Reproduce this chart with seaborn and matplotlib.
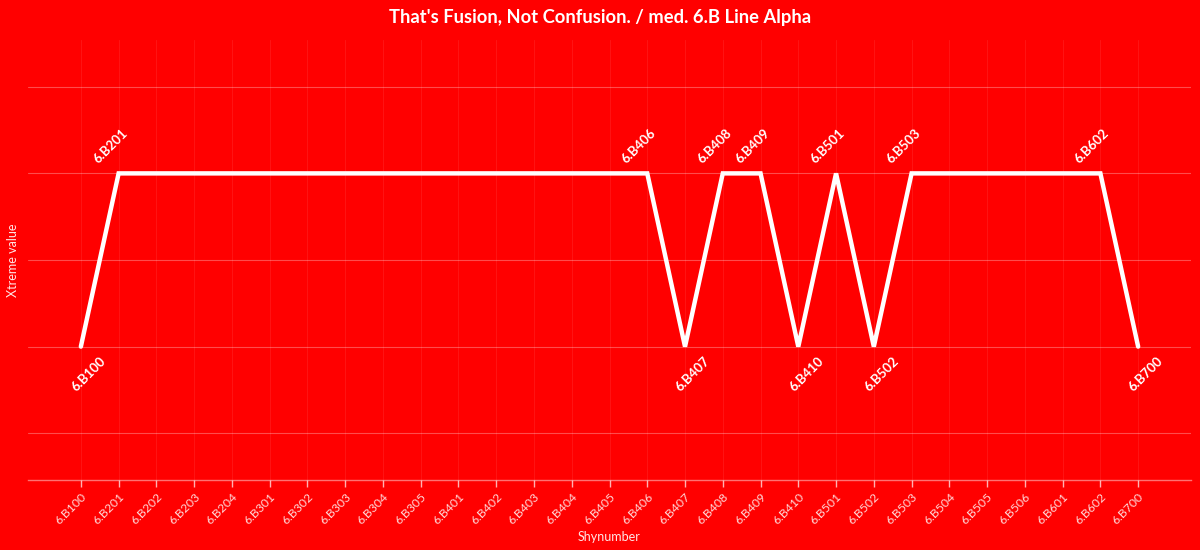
import matplotlib
matplotlib.use("Agg")
import matplotlib.pyplot as plt
import seaborn as sns
import pandas as pd

categories = ["6.B100", "6.B201", "6.B202", "6.B203", "6.B204", "6.B301", "6.B302",
              "6.B303", "6.B304", "6.B305", "6.B401", "6.B402", "6.B403", "6.B404",
              "6.B405", "6.B406", "6.B407", "6.B408", "6.B409", "6.B410", "6.B501",
              "6.B502", "6.B503", "6.B504", "6.B505", "6.B506", "6.B601", "6.B602",
              "6.B700"]
values = [1, 3, 3, 3, 3, 3, 3, 3, 3, 3, 3, 3, 3, 3, 3, 3, 1, 3, 3, 1, 3, 1, 3, 3, 3, 3, 3, 3, 1]
labeled = ["6.B100", "6.B201", "6.B406", "6.B407", "6.B408", "6.B409", "6.B410",
           "6.B501", "6.B502", "6.B503", "6.B602", "6.B700"]

title = "That's Fusion, Not Confusion. / med. 6.B Line Alpha"
xlabel = "Shynumber"
ylabel = "Xtreme value"

df = pd.DataFrame({"cat": categories, "val": values})
df["x"] = range(len(df))

sns.set_theme(style="white")
plt.rcParams["font.family"] = ["Lato", "DejaVu Sans"]

red = "#ff0000"
fig = plt.figure(figsize=(12, 5.5), dpi=100, facecolor=red)
ax = fig.add_axes([28 / 1200, 70 / 550, (1191 - 28) / 1200, (480 - 40) / 550])
ax.set_facecolor(red)

sns.lineplot(data=df, x="x", y="val", ax=ax, color="white", linewidth=3.2,
             solid_joinstyle="miter", solid_capstyle="round")

ax.set_xlim(-1.4, len(categories) - 1 + 1.4)
ax.set_ylim(-0.54, 4.54)
ax.set_xticks(df["x"])
ax.set_xticklabels(categories, rotation=45, ha="right", rotation_mode="anchor",
                   fontsize=8.8, color=(1, 1, 1, 0.8))
ax.set_yticks([0, 1, 2, 3, 4])
ax.set_yticklabels([])
ax.tick_params(axis="x", direction="out", length=5, width=1, colors=(1, 1, 1, 0.7),
               labelcolor=(1, 1, 1, 0.85), pad=3, bottom=True)
ax.tick_params(axis="y", length=0)

ax.grid(axis="y", color="white", alpha=0.3, linewidth=0.8)
ax.grid(axis="x", color="white", alpha=0.08, linewidth=0.8)
for s in ["top", "right", "left"]:
    ax.spines[s].set_visible(False)
ax.spines["bottom"].set_color((1, 1, 1, 0.45))
ax.spines["bottom"].set_linewidth(1)

for xi, (c, v) in enumerate(zip(categories, values)):
    if c in labeled:
        if v >= 2:
            ax.annotate(c, (xi, v), xytext=(-19, 8), textcoords="offset pixels",
                        rotation=45, rotation_mode="anchor", ha="left", va="bottom",
                        fontsize=9.5, fontweight="bold", color="white")
        else:
            ax.annotate(c, (xi, v), xytext=(19, -8), textcoords="offset pixels",
                        rotation=45, rotation_mode="anchor", ha="right", va="top",
                        fontsize=9.5, fontweight="bold", color="white")

ax.set_xlabel(xlabel, fontsize=9, color=(1, 1, 1, 0.9), labelpad=3)
ax.set_ylabel(ylabel, fontsize=9, color=(1, 1, 1, 0.9), labelpad=3)
fig.suptitle(title, y=1 - 17 / 550, va="center", fontsize=13.2, fontweight="bold", color="white")

fig.savefig("out.png", dpi=100, facecolor=red)
